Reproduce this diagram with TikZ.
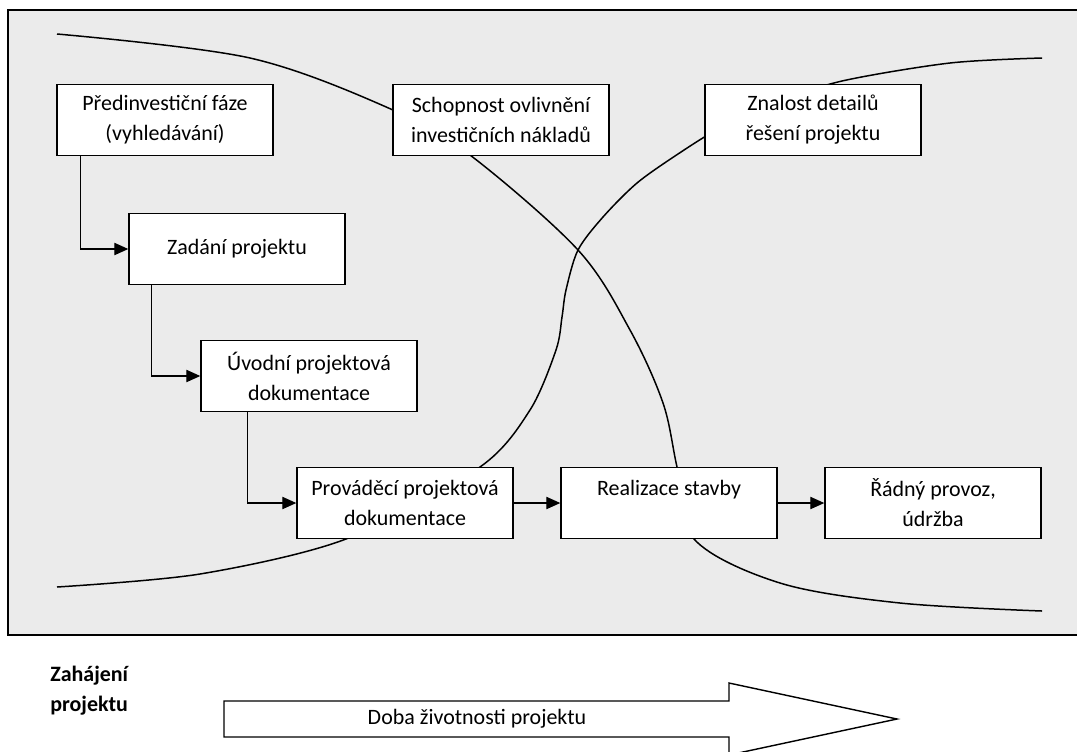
\documentclass[tikz,border=0pt]{standalone}
\usepackage{fontspec}
\setmainfont{Carlito}
\usetikzlibrary{calc,arrows.meta}
\tikzset{
  faze/.style={draw, line width=0.8pt, fill=white, minimum width=4.32cm, minimum height=1.43cm,
    inner sep=0pt, align=center, font=\fontsize{12.5}{17}\selectfont},
  krivka/.style={line width=0.85pt},
  tok/.style={line width=0.75pt, -{Triangle[length=8pt,width=7pt]}},
}
\begin{document}
\begin{tikzpicture}[x=0.02cm, y=-0.02cm]
			%%%%% START %%%%%
			\useasboundingbox (0, 0) rectangle (1077, 751);
			
			\draw[line width=1pt, fill=black!8] (8, 10) rectangle (1082, 635);
			
			% klesajici krivka
			\draw[krivka] plot[smooth, tension=0.55] coordinates {(57, 34) (250, 58) (393, 110) (470, 155) (578, 250) (630, 330) (663, 403) (677, 467) (694, 539) (780, 583) (900, 603) (1042, 611)};
			% rostouci krivka
			\draw[krivka] plot[smooth, tension=0.5] coordinates {(57, 587) (200, 574) (346, 539) (480, 467) (530, 410) (556, 350) (562, 317) (566, 290) (578, 250) (603, 217) (637, 183) (678, 154) (720, 128) (775, 103) (842, 81) (950, 63) (1042, 58)};
			
			\node[faze] (pred) at (165, 120) {Předinvestiční fáze\\(vyhledávání)};
			\node[faze] (schop) at (501, 120) {Schopnost ovlivnění\\investičních nákladů};
			\node[faze] (znal) at (813, 120) {Znalost detailů\\řešení projektu};
			\node[faze] (zad) at (237, 249) {Zadání projektu};
			\node[faze] (uvod) at (309, 376) {Úvodní projektová\\dokumentace};
			\node[faze] (prov) at (405, 503) {Prováděcí projektová\\dokumentace};
			\node[faze] (real) at (669, 503) {Realizace stavby\\\mbox{}};
			\node[faze] (radny) at (933, 503) {Řádný provoz,\\údržba};
			
			\draw[tok] ($(pred.south west)+(24, 0)$) |- (zad.west);
			\draw[tok] ($(zad.south west)+(23, 0)$) |- (uvod.west);
			\draw[tok] ($(uvod.south west)+(47, 0)$) |- (prov.west);
			\draw[tok] (prov) -- (real);
			\draw[tok] (real) -- (radny);
			
			\node[anchor=west, align=left, inner sep=0pt, font=\fontsize{12.5}{17}\selectfont\bfseries] (zahaj) at (50, 691) {Zahájení\\projektu};
			
			\draw[line width=0.8pt, fill=white] (224, 701) -- (729, 701) -- (729, 683) -- (897, 719) -- (729, 755) -- (729, 737) -- (224, 737) -- cycle;
			\node[font=\fontsize{12.5}{14}\selectfont] (doba) at (477, 719) {Doba životnosti projektu};
			
			%%%%% END %%%%%
\end{tikzpicture}
\end{document}
